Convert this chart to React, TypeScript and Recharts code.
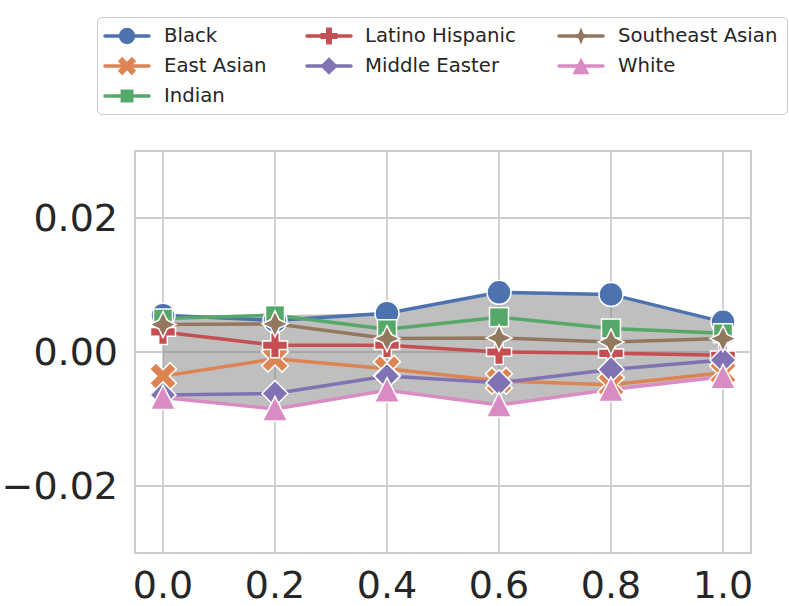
import React from 'react';
import { ComposedChart, Line, Area, XAxis, YAxis, CartesianGrid, ReferenceArea, Legend } from 'recharts';

const xs = [0, 0.2, 0.4, 0.6, 0.8, 1.0];
const xTicks = [0, 0.2, 0.4, 0.6, 0.8, 1.0];
const yTicks = [-0.02, 0, 0.02];

const black = [0.0055, 0.0047, 0.0058, 0.0089, 0.0086, 0.0045];
const eastAsian = [-0.0036, -0.001, -0.0025, -0.0043, -0.0049, -0.0031];
const indian = [0.005, 0.0055, 0.0034, 0.0052, 0.0035, 0.0028];
const latino = [0.003, 0.001, 0.001, 0.0, -0.0002, -0.0005];
const middleEast = [-0.0064, -0.0062, -0.0036, -0.0046, -0.0026, -0.0012];
const seAsian = [0.0041, 0.0042, 0.002, 0.0021, 0.0015, 0.002];
const white = [-0.0068, -0.0085, -0.0057, -0.0079, -0.0056, -0.0037];

const SERIES = [
  { key: 'black', name: 'Black', color: '#4c72b0', marker: 'circle', values: black },
  { key: 'eastAsian', name: 'East Asian', color: '#dd8452', marker: 'x', values: eastAsian },
  { key: 'indian', name: 'Indian', color: '#55a868', marker: 'square', values: indian },
  { key: 'latino', name: 'Latino Hispanic', color: '#c44e52', marker: 'plus', values: latino },
  { key: 'middleEast', name: 'Middle Easter', color: '#8172b3', marker: 'diamond', values: middleEast },
  { key: 'seAsian', name: 'Southeast Asian', color: '#937860', marker: 'star', values: seAsian },
  { key: 'white', name: 'White', color: '#da8bc3', marker: 'triangle', values: white },
];

const data = xs.map((x, i) => {
  const row: any = { x };
  const vals = SERIES.map(s => s.values[i]);
  SERIES.forEach(s => { row[s.key] = s.values[i]; });
  row.band = [Math.min(...vals), Math.max(...vals)];
  return row;
});

const FONT = '"DejaVu Sans", sans-serif';
const TEXT = '#262626';
const GRID = '#cccccc';

const Marker = ({ kind, cx, cy, color, scale = 1, edge = true }: any) => {
  const common: any = {
    fill: color,
    stroke: edge ? '#ffffff' : 'none',
    strokeWidth: 1.5,
    strokeLinejoin: 'miter',
  };
  const pts = (arr: number[][]) => arr.map(([x, y]) => `${cx + x * scale},${cy + y * scale}`).join(' ');
  const plus = (r: number, w: number) => [
    [-w, -r], [w, -r], [w, -w], [r, -w], [r, w], [w, w],
    [w, r], [-w, r], [-w, w], [-r, w], [-r, -w], [-w, -w],
  ];
  switch (kind) {
    case 'circle':
      return <circle cx={cx} cy={cy} r={12 * scale} {...common} />;
    case 'square':
      return <rect x={cx - 9.5 * scale} y={cy - 9.5 * scale} width={19 * scale} height={19 * scale} {...common} />;
    case 'diamond':
      return <polygon points={pts([[0, -13], [13, 0], [0, 13], [-13, 0]])} {...common} />;
    case 'triangle':
      return <polygon points={pts([[0, -12.5], [12.5, 12], [-12.5, 12]])} {...common} />;
    case 'plus':
      return <polygon points={pts(plus(12.5, 4.3))} {...common} />;
    case 'x':
      return (
        <polygon
          points={pts(plus(14.5, 4.5))}
          transform={`rotate(45 ${cx} ${cy})`}
          {...common}
        />
      );
    case 'star': {
      const arr: number[][] = [];
      for (let k = 0; k < 8; k++) {
        const a = (-90 + k * 45) * Math.PI / 180;
        const r = k % 2 === 0 ? 13 : (edge ? 6 : 5);
        arr.push([r * Math.cos(a), r * Math.sin(a)]);
      }
      return <polygon points={pts(arr)} {...common} />;
    }
    default:
      return null;
  }
};

const ICON_X = [29, 231, 483];
const TEXT_X = [66, 267, 520];
const ROW_Y = [18, 48, 78];

const LegendBox = () => (
  <div
    style={{
      position: 'relative',
      width: 691,
      height: 98,
      boxSizing: 'border-box',
      border: `1.5px solid ${GRID}`,
      borderRadius: 5,
      background: 'rgba(255,255,255,0.8)',
      fontFamily: FONT,
      fontSize: 19.7,
      color: TEXT,
    }}
  >
    {SERIES.map((s, i) => {
      const col = i < 3 ? 0 : i < 5 ? 1 : 2;
      const row = i < 3 ? i : i < 5 ? i - 3 : i - 5;
      return (
        <React.Fragment key={s.key}>
          <svg
            width={50}
            height={26}
            style={{ position: 'absolute', left: ICON_X[col] - 25, top: ROW_Y[row] - 13, overflow: 'visible' }}
          >
            <line x1={3} x2={47} y1={13} y2={13} stroke={s.color} strokeWidth={3.5} strokeLinecap="round" />
            <Marker kind={s.marker} cx={25} cy={13} color={s.color} scale={0.68} edge={false} />
          </svg>
          <div
            style={{
              position: 'absolute',
              left: TEXT_X[col],
              top: ROW_Y[row] - 13,
              height: 26,
              lineHeight: '26px',
              whiteSpace: 'nowrap',
            }}
          >
            {s.name}
          </div>
        </React.Fragment>
      );
    })}
  </div>
);

const fmtY = (v: number) => (v < 0 ? '\u2212' : '') + Math.abs(v).toFixed(2);

export default function App() {
  return (
    <div style={{ position: 'absolute', left: 0, top: 0, width: 789, height: 606, background: '#fff' }}>
      <ComposedChart width={789} height={606} data={data} margin={{ top: 151, right: 38, bottom: 0, left: 0 }}>
        <CartesianGrid stroke={GRID} strokeWidth={1.8} />
        <XAxis
          type="number"
          dataKey="x"
          domain={[-0.05, 1.05]}
          ticks={xTicks}
          tickFormatter={(v: number) => v.toFixed(1)}
          axisLine={false}
          tickLine={false}
          tickSize={0}
          tickMargin={18}
          height={53}
          allowDataOverflow
          tick={{ fontFamily: FONT, fontSize: 38, fill: TEXT }}
        />
        <YAxis
          type="number"
          domain={[-0.03, 0.03]}
          ticks={yTicks}
          tickFormatter={fmtY}
          axisLine={false}
          tickLine={false}
          tickSize={0}
          tickMargin={17}
          width={135}
          allowDataOverflow
          tick={{ fontFamily: FONT, fontSize: 38, fill: TEXT }}
        />
        <ReferenceArea x1={-0.05} x2={1.05} y1={-0.03} y2={0.03} fill="none" stroke={GRID} strokeWidth={2} ifOverflow="visible" />
        <Area
          dataKey="band"
          type="linear"
          stroke="none"
          fill="#808080"
          fillOpacity={0.5}
          isAnimationActive={false}
          activeDot={false}
        />
        {SERIES.map(s => (
          <Line
            key={s.key}
            dataKey={s.key}
            name={s.name}
            type="linear"
            stroke={s.color}
            strokeWidth={3.5}
            isAnimationActive={false}
            activeDot={false}
            dot={(p: any) => (
              <Marker key={`${s.key}-${p.index}`} kind={s.marker} cx={p.cx} cy={p.cy} color={s.color} />
            )}
          />
        ))}
        <Legend
          layout="horizontal"
          verticalAlign="middle"
          align="center"
          wrapperStyle={{ position: 'absolute', top: 17, left: 97, width: 691, height: 98 }}
          content={() => <LegendBox />}
        />
      </ComposedChart>
    </div>
  );
}
